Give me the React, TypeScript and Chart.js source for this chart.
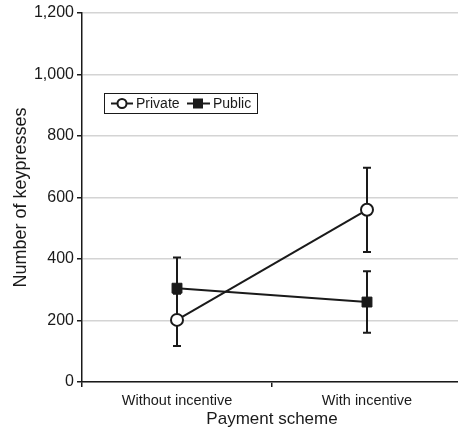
import React, { useEffect, useRef } from "react";
import { Chart, registerables } from "chart.js";

Chart.register(...registerables);

const categories = ["Without incentive", "With incentive"];
const privateValues = [202, 560];
const privateErrors = [85, 137];
const publicValues = [305, 260];
const publicErrors = [100, 100];
const yTicks = [0, 200, 400, 600, 800, 1000, 1200];
const seriesNames = ["Private", "Public"];

const FONT = "'Liberation Sans', Arial, Helvetica, sans-serif";
const INK = "#1a1a1a";

const errorBarPlugin = {
  id: "errorBars",
  beforeDatasetsDraw(chart: any) {
    const ctx = chart.ctx;
    const xs = chart.scales.x;
    const ys = chart.scales.y;
    const all = [
      { v: privateValues, e: privateErrors },
      { v: publicValues, e: publicErrors },
    ];
    ctx.save();
    ctx.strokeStyle = INK;
    ctx.lineWidth = 2;
    all.forEach((s) => {
      s.v.forEach((val, i) => {
        const x = xs.getPixelForValue(i);
        const yTop = ys.getPixelForValue(val + s.e[i]);
        const yBot = ys.getPixelForValue(val - s.e[i]);
        ctx.beginPath();
        ctx.moveTo(x, yTop);
        ctx.lineTo(x, yBot);
        ctx.moveTo(x - 4, yTop);
        ctx.lineTo(x + 4, yTop);
        ctx.moveTo(x - 4, yBot);
        ctx.lineTo(x + 4, yBot);
        ctx.stroke();
      });
    });
    ctx.restore();
  },
};

const legendPlugin = {
  id: "boxLegend",
  afterDraw(chart: any) {
    const ctx = chart.ctx;
    const a = chart.chartArea;
    const bx = a.left + 22;
    const by = a.top + 80;
    const bw = 153;
    const bh = 20;
    ctx.save();
    ctx.fillStyle = "#fff";
    ctx.fillRect(bx, by, bw, bh);
    ctx.strokeStyle = INK;
    ctx.lineWidth = 1;
    ctx.strokeRect(bx + 0.5, by + 0.5, bw, bh);
    const cy = by + bh / 2 + 0.5;
    ctx.font = `14px ${FONT}`;
    ctx.textBaseline = "middle";
    ctx.fillStyle = INK;
    // Private
    ctx.lineWidth = 2;
    ctx.beginPath();
    ctx.moveTo(bx + 7, cy);
    ctx.lineTo(bx + 29, cy);
    ctx.stroke();
    ctx.beginPath();
    ctx.arc(bx + 18, cy, 4.5, 0, Math.PI * 2);
    ctx.fillStyle = "#fff";
    ctx.fill();
    ctx.stroke();
    ctx.fillStyle = INK;
    ctx.fillText(seriesNames[0], bx + 32, cy + 1);
    // Public
    ctx.beginPath();
    ctx.moveTo(bx + 83, cy);
    ctx.lineTo(bx + 106, cy);
    ctx.stroke();
    ctx.fillRect(bx + 89, cy - 5, 10, 10);
    ctx.fillText(seriesNames[1], bx + 109, cy + 1);
    ctx.restore();
  },
};

export default function App() {
  const ref = useRef<HTMLCanvasElement>(null);
  useEffect(() => {
    document.body.style.margin = "0";
    const chart = new Chart(ref.current!, {
      type: "line",
      data: {
        labels: categories,
        datasets: [
          {
            label: seriesNames[0],
            data: privateValues,
            borderColor: INK,
            borderWidth: 2,
            pointStyle: "circle",
            pointRadius: 6,
            pointBorderWidth: 2,
            pointBackgroundColor: "#fff",
            pointBorderColor: INK,
          },
          {
            label: seriesNames[1],
            data: publicValues,
            borderColor: INK,
            borderWidth: 2,
            pointStyle: "rect",
            pointRadius: 7,
            pointBorderWidth: 1,
            pointBackgroundColor: INK,
            pointBorderColor: INK,
          },
        ],
      },
      options: {
        animation: false,
        responsive: false,
        layout: { autoPadding: false, padding: { top: 13, right: 0, left: 10, bottom: 0 } },
        plugins: {
          legend: { display: false },
          tooltip: { enabled: false },
        },
        scales: {
          x: {
            type: "category",
            offset: true,
            border: { color: INK, width: 1.5 },
            grid: {
              display: true,
              drawOnChartArea: false,
              offset: true,
              color: INK,
              tickColor: INK,
              tickLength: 5,
              lineWidth: 1.5,
            },
            ticks: {
              color: INK,
              font: { family: FONT, size: 14.5 },
              padding: 5,
              maxRotation: 0,
            },
            title: {
              display: true,
              text: "Payment scheme",
              color: INK,
              font: { family: FONT, size: 17 },
              padding: { top: 4, bottom: 0 },
            },
            afterFit: (axis: any) => {
              axis.height = 48;
              axis.paddingLeft = 0;
              axis.paddingRight = 0;
            },
          },
          y: {
            min: 0,
            max: 1200,
            afterBuildTicks: (axis: any) => {
              axis.ticks = yTicks.map((v) => ({ value: v }));
            },
            border: { color: INK, width: 1.5 },
            grid: {
              color: "#d4d4d4",
              lineWidth: 1.5,
              tickColor: INK,
              tickLength: 5,
            },
            ticks: {
              color: INK,
              font: { family: FONT, size: 16 },
              padding: 3,
              callback: (v: any) => Number(v).toLocaleString("en-US"),
            },
            title: {
              display: true,
              text: "Number of keypresses",
              color: INK,
              font: { family: FONT, size: 18 },
              padding: { top: 0, bottom: 0 },
            },
            afterFit: (axis: any) => {
              axis.width = 72;
            },
          },
        },
      },
      plugins: [errorBarPlugin, legendPlugin],
    });
    return () => chart.destroy();
  }, []);
  return (
    <div style={{ width: 458, height: 430, overflow: "hidden" }}>
      <canvas ref={ref} width={462} height={430} style={{ display: "block" }} />
    </div>
  );
}
